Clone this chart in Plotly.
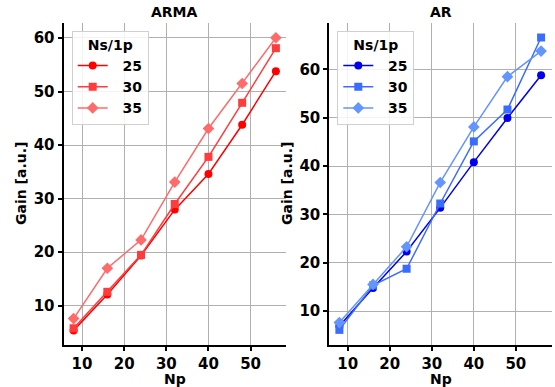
import plotly.graph_objects as go

np_vals = [8, 16, 24, 32, 40, 48, 56]
ns_labels = ["25", "30", "35"]

arma_25 = [5.4, 12.1, 19.4, 27.95, 34.6, 43.8, 53.8]
arma_30 = [5.8, 12.6, 19.5, 29.0, 37.8, 47.9, 58.1]
arma_35 = [7.6, 17.0, 22.3, 33.1, 43.1, 51.5, 60.05]

ar_25 = [6.9, 14.75, 22.3, 31.35, 40.8, 49.95, 58.8]
ar_30 = [6.1, 15.3, 18.75, 32.25, 45.1, 51.7, 66.6]
ar_35 = [7.6, 15.5, 23.3, 36.6, 48.1, 58.5, 63.8]

red_colors = ["#ff0000", "#ff3b3b", "#ff6b6b"]
blue_colors = ["#0000ee", "#3a6cff", "#6495ff"]
symbols = ["circle", "square", "diamond"]
sizes = [8, 8, 9]

W, H = 555, 387
FONT = "DejaVu Sans"
PAD = "\u00a0\u00a0"

fig = go.Figure()

for i, ys in enumerate([arma_25, arma_30, arma_35]):
    fig.add_trace(go.Scatter(
        x=np_vals, y=ys, mode="lines+markers", name=PAD + ns_labels[i],
        line=dict(color=red_colors[i], width=1.5),
        marker=dict(symbol=symbols[i], size=sizes[i], color=red_colors[i]),
        xaxis="x", yaxis="y", legend="legend", cliponaxis=False))

for i, ys in enumerate([ar_25, ar_30, ar_35]):
    fig.add_trace(go.Scatter(
        x=np_vals, y=ys, mode="lines+markers", name=PAD + ns_labels[i],
        line=dict(color=blue_colors[i], width=1.5),
        marker=dict(symbol=symbols[i], size=sizes[i], color=blue_colors[i]),
        xaxis="x2", yaxis="y2", legend="legend2", cliponaxis=False))

tickfont = dict(family=FONT, size=15, color="black", weight="bold")
axis_common = dict(
    showgrid=True, gridcolor="#b0b0b0", gridwidth=1,
    showline=True, linecolor="black", linewidth=2,
    ticks="outside", ticklen=4, tickwidth=1.5, tickcolor="black",
    zeroline=False, tickfont=tickfont, automargin=False, mirror=False,
)

yd = [(H - 345) / H, (H - 23) / H]
fig.update_layout(
    width=W, height=H,
    margin=dict(l=0, r=0, t=0, b=0),
    paper_bgcolor="white", plot_bgcolor="white",
    xaxis=dict(domain=[63.5 / W, 286 / W], range=[5.6, 58.4],
               tickvals=[10, 20, 30, 40, 50], anchor="y", **axis_common),
    yaxis=dict(domain=yd, range=[2.67, 62.8],
               tickvals=[10, 20, 30, 40, 50, 60], anchor="x", **axis_common),
    xaxis2=dict(domain=[329.3 / W, 552 / W], range=[5.6, 58.6],
                tickvals=[10, 20, 30, 40, 50], anchor="y2", **axis_common),
    yaxis2=dict(domain=yd, range=[2.97, 69.6],
                tickvals=[10, 20, 30, 40, 50, 60], anchor="x2", **axis_common),
    showlegend=True,
)

legend_common = dict(
    bgcolor="rgba(255,255,255,0.85)", bordercolor="#d0d0d0", borderwidth=1,
    font=dict(family=FONT, size=14, color="black", weight="bold"),
    title=dict(text="Ns/1p", side="top center",
               font=dict(family=FONT, size=14, color="black", weight="bold")),
    xanchor="left", yanchor="top", itemwidth=30, tracegroupgap=0,
)
fig.update_layout(
    legend=dict(x=71.7 / W, y=(H - 30.7) / H, **legend_common),
    legend2=dict(x=337.3 / W, y=(H - 30.7) / H, **legend_common),
)

lab_font = dict(family=FONT, size=14, color="black", weight="bold")
annotations = [
    dict(text="ARMA", x=174.75 / W, y=(H - 12) / H),
    dict(text="AR", x=440.6 / W, y=(H - 12) / H),
    dict(text="Np", x=174.75 / W, y=(H - 379) / H),
    dict(text="Np", x=440.6 / W, y=(H - 379) / H),
    dict(text="Gain [a.u.]", x=21 / W, y=(H - 184) / H, textangle=-90),
    dict(text="Gain [a.u.]", x=287 / W, y=(H - 184) / H, textangle=-90),
]
for a in annotations:
    fig.add_annotation(xref="paper", yref="paper", showarrow=False,
                       xanchor="center", yanchor="middle", font=lab_font, **a)

fig.write_html("out.html",
               config={"displayModeBar": False},
               post_script="document.body.style.margin='0';"
                           "document.body.style.overflow='hidden';")
